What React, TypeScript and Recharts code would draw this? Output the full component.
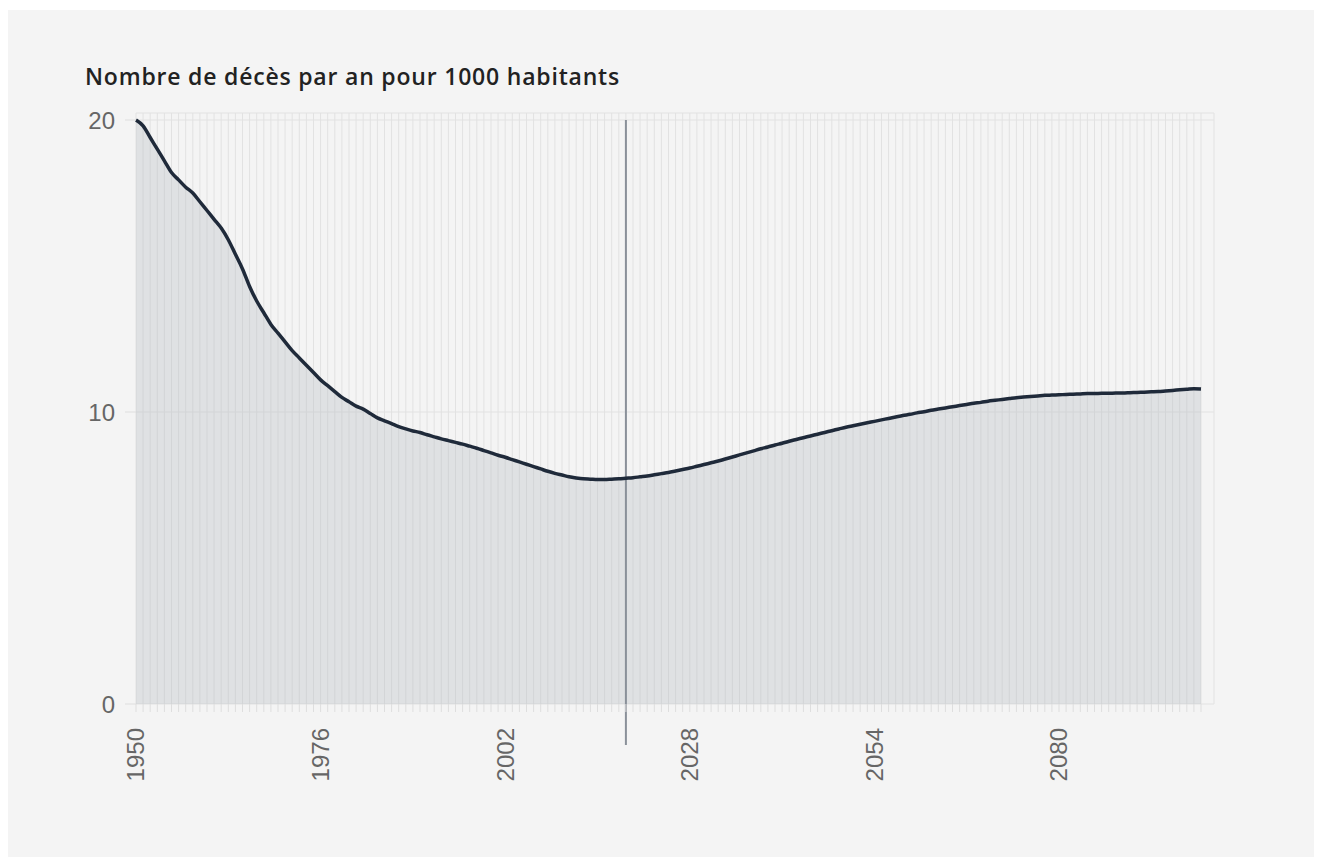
import {
  Area,
  ComposedChart,
  Line,
  XAxis,
  YAxis,
  CartesianGrid,
  ReferenceLine,
} from "recharts";

// years 1950 -> 2100, one value per year (deaths per 1000 inhabitants)
const startYear = 1950;
const deathRate = [
  20.0, 19.8, 19.4, 19.0, 18.6, 18.2, 17.95, 17.7, 17.5, 17.2,
  16.9, 16.6, 16.3, 15.9, 15.4, 14.9, 14.3, 13.8, 13.4, 13.0,
  12.7, 12.4, 12.1, 11.85, 11.6, 11.35, 11.1, 10.9, 10.7, 10.5,
  10.35, 10.2, 10.1, 9.95, 9.8, 9.7, 9.6, 9.5, 9.42, 9.35,
  9.3, 9.22, 9.15, 9.08, 9.02, 8.96, 8.9, 8.83, 8.76, 8.68,
  8.6, 8.52, 8.45, 8.37, 8.29, 8.21, 8.13, 8.05, 7.97, 7.9,
  7.84, 7.78, 7.74, 7.71, 7.7, 7.69, 7.69, 7.7, 7.71, 7.73,
  7.75, 7.78, 7.81, 7.85, 7.89, 7.93, 7.98, 8.03, 8.08, 8.14,
  8.2, 8.26, 8.32, 8.39, 8.46, 8.53, 8.6, 8.67, 8.74, 8.8,
  8.87, 8.93, 9.0, 9.06, 9.12, 9.18, 9.24, 9.3, 9.36, 9.42,
  9.48, 9.53, 9.58, 9.63, 9.68, 9.73, 9.78, 9.83, 9.88, 9.92,
  9.97, 10.01, 10.06, 10.1, 10.14, 10.18, 10.22, 10.26, 10.3, 10.33,
  10.37, 10.4, 10.43, 10.46, 10.49, 10.51, 10.53, 10.55, 10.57, 10.58,
  10.59, 10.6, 10.61, 10.62, 10.63, 10.63, 10.64, 10.64, 10.65, 10.65,
  10.66, 10.67, 10.68, 10.69, 10.7, 10.72, 10.74, 10.76, 10.78, 10.8,
  10.79,
];
const years = deathRate.map((_, i) => startYear + i);
const labelYears = [1950, 1976, 2002, 2028, 2054, 2080];
const yTicks = [0, 10, 20];
const currentYear = 2019;

const data = years.map((year, i) => ({ year, rate: deathRate[i] }));

const YearTick = ({ x, y, payload }: any) => {
  if (!labelYears.includes(payload.value)) return null;
  return (
    <g transform={`translate(${x},${y})`}>
      <text
        transform="rotate(-90)"
        x={-14}
        dy="0.35em"
        textAnchor="end"
        fontSize={24}
        fontFamily="'Liberation Sans', Arial, sans-serif"
        fill="#666"
      >
        {payload.value}
      </text>
    </g>
  );
};

export default function App() {
  return (
    <div
      style={{
        position: "relative",
        marginLeft: -1,
        marginTop: 2,
        width: 1315,
        height: 847,
        background: "#f4f4f4",
      }}
    >
      <div
        style={{
          position: "absolute",
          left: 78,
          top: 50,
          fontFamily: "'Open Sans', sans-serif",
          fontWeight: 600,
          fontSize: 23,
          letterSpacing: 0.8,
          color: "#222",
        }}
      >
        Nombre de décès par an pour 1000 habitants
      </div>
      <ComposedChart
        width={1315}
        height={847}
        data={data}
        margin={{ top: 103, right: 108, left: 69, bottom: 53 }}
      >
        <CartesianGrid stroke="#e2e2e2" />
        <XAxis
          dataKey="year"
          type="number"
          domain={[1950, 2100]}
          ticks={years}
          interval={0}
          padding={{ left: 0, right: 13 }}
          axisLine={false}
          tickLine={{ stroke: "#dedede" }}
          tickSize={8}
          tick={<YearTick />}
          height={100}
        />
        <YAxis
          domain={[0, 20]}
          ticks={yTicks}
          padding={{ top: 7, bottom: 0 }}
          axisLine={false}
          tickLine={{ stroke: "#dedede" }}
          tickSize={11}
          tickMargin={10}
          width={60}
          tick={{
            fontSize: 24,
            fill: "#666",
            fontFamily: "'Liberation Sans', Arial, sans-serif",
          }}
        />
        <Area
          type="monotone"
          dataKey="rate"
          stroke="none"
          fill="#b8bcc4"
          fillOpacity={0.35}
          isAnimationActive={false}
        />
        <ReferenceLine
          segment={[
            { x: currentYear, y: 20 },
            { x: currentYear, y: -1.4 },
          ]}
          stroke="#8a9099"
          strokeWidth={2}
          ifOverflow="visible"
        />
        <Line
          type="monotone"
          dataKey="rate"
          stroke="#1f2a3a"
          strokeWidth={3.5}
          dot={false}
          activeDot={false}
          isAnimationActive={false}
        />
      </ComposedChart>
    </div>
  );
}
